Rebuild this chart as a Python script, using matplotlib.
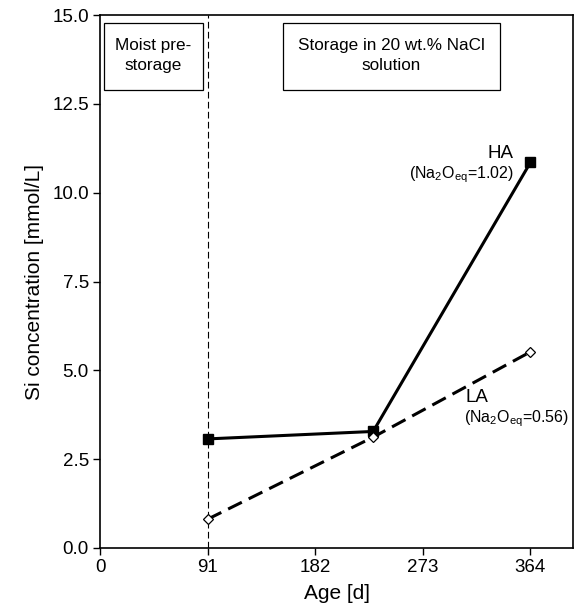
import matplotlib
matplotlib.use('Agg')
import matplotlib.pyplot as plt
from matplotlib.patches import Rectangle

plt.rcParams['font.family'] = ['Liberation Sans', 'DejaVu Sans']
plt.rcParams['mathtext.fontset'] = 'custom'
plt.rcParams['mathtext.rm'] = 'Liberation Sans'
plt.rcParams['mathtext.default'] = 'regular'

# data
age_ha = [91, 231, 364]
si_ha = [3.07, 3.28, 10.85]
age_la = [91, 231, 364]
si_la = [0.81, 3.12, 5.52]
xticks = [0, 91, 182, 273, 364]
yticks = [0.0, 2.5, 5.0, 7.5, 10.0, 12.5, 15.0]

fig = plt.figure(figsize=(5.79, 6.15), dpi=100)
ax = fig.add_axes([100 / 579, 1 - 548 / 615, 473 / 579, 533 / 615])

ax.plot(age_ha, si_ha, color='black', lw=2.2, marker='s', ms=7,
        mfc='black', mec='black', zorder=3)
ax.plot(age_la, si_la, color='black', lw=2.2, ls=(0, (5, 2.5)), marker='D',
        ms=5.5, mfc='white', mec='black', mew=0.9, zorder=3)

ax.axvline(91, color='black', lw=0.8, ls=(0, (6, 3)), zorder=1)

ax.set_xlim(0, 400)
ax.set_ylim(0, 15)
ax.set_xticks(xticks)
ax.set_yticks(yticks)
ax.set_yticklabels(['%.1f' % v for v in yticks])
ax.tick_params(direction='out', length=5, width=1, labelsize=13.5, pad=3,
               top=False, right=False)
for s in ax.spines.values():
    s.set_linewidth(1.2)

ax.set_xlabel('Age [d]', fontsize=15, labelpad=6)
ax.set_ylabel('Si concentration [mmol/L]', fontsize=15, labelpad=6)

# boxes at top
ax.add_patch(Rectangle((3.4, 12.89), 83.8, 1.89, fill=False, lw=0.9,
                       ec='black', zorder=2))
ax.text(45.3, 13.86, 'Moist pre-\nstorage', ha='center', va='center',
        fontsize=12.3, linespacing=1.45)
ax.add_patch(Rectangle((155, 12.89), 183, 1.89, fill=False, lw=0.9,
                       ec='black', zorder=2))
ax.text(246.5, 13.86, 'Storage in 20 wt.% NaCl\nsolution', ha='center',
        va='center', fontsize=12.3, linespacing=1.45)

ax.text(339, 11.1, 'HA', ha='center', va='center', fontsize=13.5)
ax.text(350, 10.5, '(Na$_2$O$_{eq}$=1.02)', ha='right', va='center',
        fontsize=11.5)
ax.text(319, 4.24, 'LA', ha='center', va='center', fontsize=13.5)
ax.text(397, 3.63, '(Na$_2$O$_{eq}$=0.56)', ha='right', va='center',
        fontsize=11.5)

plt.savefig('out.png', dpi=100)
